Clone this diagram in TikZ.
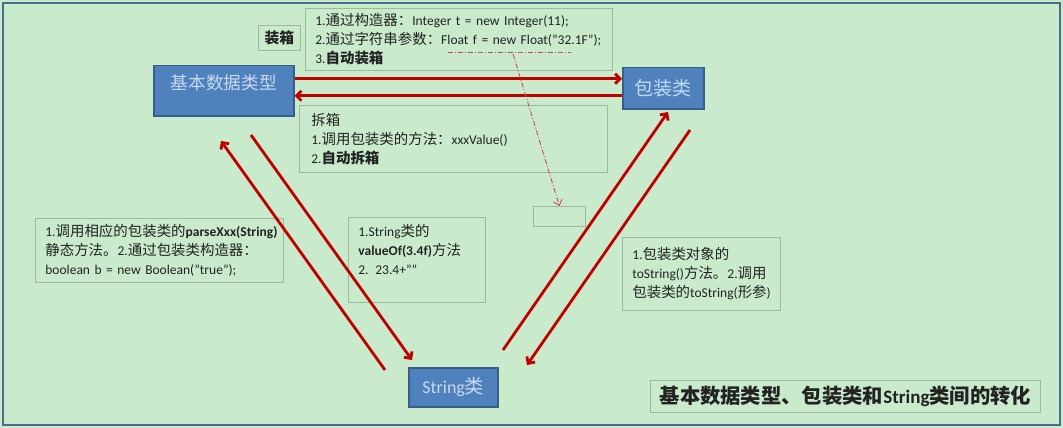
\documentclass[tikz,border=0pt]{standalone}
\usepackage{fontspec}
\setmainfont{Carlito}
\newfontfamily\cjk[Scale=1.07]{Noto Sans CJK SC}
\newcommand\zh[1]{{\cjk #1}}
\usetikzlibrary{arrows.meta}
\definecolor{bg}{HTML}{C9EBCC}
\definecolor{framec}{HTML}{4A6C8F}
\definecolor{boxline}{HTML}{9CB89F}
\definecolor{txt}{HTML}{222222}
\definecolor{bluefill}{HTML}{4F81BD}
\definecolor{blueline}{HTML}{385D8A}
\definecolor{bluetxt}{HTML}{C6D9F0}
\definecolor{arrred}{HTML}{C00000}
\definecolor{dashred}{HTML}{C0504D}
\tikzset{
  textbox/.style={draw=boxline, line width=0.8pt, anchor=north west, align=left,
    inner xsep=10pt, inner ysep=4pt, text=txt, font=\fontsize{13.5}{19}\selectfont},
  bluebox/.style={draw=blueline, fill=bluefill, line width=1.5pt, anchor=north west,
    text=bluetxt, inner sep=0pt},
  redarrow/.style={draw=arrred, line width=2.8pt, -{Straight Barb[length=5pt,width=10pt]}},
  dashline/.style={draw=dashred, line width=0.9pt, dash pattern=on 5pt off 2pt on 1pt off 2pt}
}
\begin{document}
\begin{tikzpicture}[x=1pt,y=-1pt]
\fill[bg] (0,0) rectangle (1063,428);
\useasboundingbox (0,0) rectangle (1063,428);
\draw[framec, line width=2.5pt] (3,3) rectangle (1060,425);

% blue class boxes
\node[bluebox, minimum width=140pt, minimum height=50pt, text height=16pt, text depth=18pt,
  font=\fontsize{16.5}{20}\selectfont] (base) at (153,65) {\zh{基本数据类型}};
\node[bluebox, minimum width=81pt, minimum height=41pt,
  font=\fontsize{17.8}{22}\selectfont] (wrap) at (622,67) {\zh{包装类}};
\node[bluebox, minimum width=89pt, minimum height=39pt,
  font=\fontsize{18}{22}\selectfont] (str) at (408,367) {String\zh{类}};

% boxing
\node[textbox, minimum width=42pt, minimum height=25pt, inner xsep=2pt, font=\fontsize{13.8}{16}\selectfont\bfseries, align=center] (lblbox) at (258,25) {\zh{装箱}};
\node[textbox, minimum width=307pt, minimum height=62pt, text width=287pt] (boxing) at (305,8)
 {\mbox{1.\zh{通过构造器：}Integer t = new Integer(11);}\\
  \mbox{2.\zh{通过字符串参数：}Float f = new Float("32.1F");}\\
  \mbox{3.\textbf{\zh{自动装箱}}}};

% unboxing
\node[textbox, minimum width=308pt, minimum height=67pt, text width=284pt, inner xsep=12pt] (unboxing) at (299,105)
 {\zh{拆箱}\\
  \mbox{1.\zh{调用包装类的方法：}xxxValue()}\\
  \mbox{2.\textbf{\zh{自动拆箱}}}};

% small empty box
\node[textbox, minimum width=52pt, minimum height=20pt, inner sep=0pt] (small) at (533,206) {};

% lower boxes
\node[textbox, minimum width=248pt, minimum height=64pt, text width=228pt] (leftbox) at (35,218)
 {\mbox{1.\zh{调用相应的包装类的}\textbf{parseXxx(String)}}\\
  \mbox{\zh{静态方法。}2.\zh{通过包装类构造器：}}\\
  \mbox{boolean b = new Boolean("true");}};
\node[textbox, minimum width=137pt, minimum height=85pt, text width=117pt,
  inner ysep=8pt, text height=11pt, text depth=58pt] (midbox) at (348,217)
 {\mbox{1.String\zh{类的}}\\
  \mbox{\textbf{valueOf(3.4f)}\zh{方法}}\\
  \mbox{2. 23.4+""}};
\node[textbox, minimum width=158pt, minimum height=73pt, text width=138pt] (rightbox) at (622,237)
 {\mbox{1.\zh{包装类对象的}}\\
  \mbox{toString()\zh{方法。}2.\zh{调用}}\\
  \mbox{\zh{包装类的}toString(\zh{形参})}};

% title
\node[textbox, minimum width=390pt, minimum height=32pt, align=center, inner xsep=4pt, font=\fontsize{19}{22}\selectfont\bfseries] (title) at (650,380)
 {\zh{基本数据类型、包装类和}String\zh{类间的转化}};

% horizontal arrows
\draw[redarrow] ([yshift=12pt]base.east) -- ([yshift=12pt]base.east -| wrap.west);
\draw[redarrow] ([yshift=-5pt]base.east -| wrap.west) -- ([yshift=-5pt]base.east);

% diagonal arrows
\coordinate (l1s) at (385,370); \coordinate (l1e) at (221,141);
\coordinate (l2s) at (251,135); \coordinate (l2e) at (412,360);
\coordinate (r1s) at (503,350); \coordinate (r1e) at (668,112);
\coordinate (r2s) at (690,130); \coordinate (r2e) at (527,365);
\draw[redarrow] (l1s) -- (l1e);
\draw[redarrow] (l2s) -- (l2e);
\draw[redarrow] (r1s) -- (r1e);
\draw[redarrow] (r2s) -- (r2e);

% dash-dot underline and pointer
\coordinate (ula) at (448,52); \coordinate (ulb) at (571,52); \coordinate (ulm) at (513,54);
\draw[dashline] (ula) -- (ulb);
\draw[dashline, -{Straight Barb[length=5pt,width=9pt]}] (ulm) -- (small.north);
\end{tikzpicture}
\end{document}
